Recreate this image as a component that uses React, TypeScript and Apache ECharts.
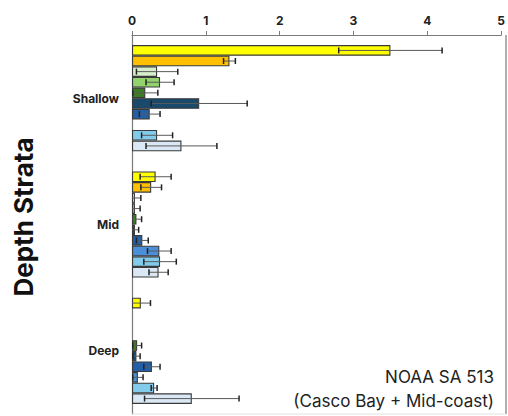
import React, { useEffect, useRef } from "react";
import * as echarts from "echarts";

const categories = ["Shallow", "Mid", "Deep"];
const xTicks = [0, 1, 2, 3, 4, 5];

const seriesNames = [
  "S1", "S2", "S3", "S4", "S5", "S6", "S7", "S8", "S9", "S10",
];
const seriesColors = [
  "#ffff00", "#ffc000", "#d6efcb", "#92d36e", "#3b7d23",
  "#1a4a6b", "#235fa6", "#4a8fd8", "#83cbeb", "#dae8f6",
];
const values: (number | null)[][] = [
  [3.5, 0.32, 0.12],
  [1.32, 0.26, null],
  [0.34, 0.04, null],
  [0.38, 0.04, null],
  [0.18, 0.06, 0.07],
  [0.91, 0.04, 0.06],
  [0.24, 0.14, 0.27],
  [null, 0.37, 0.08],
  [0.34, 0.38, 0.3],
  [0.67, 0.36, 0.81],
];
const errors: (number | null)[][] = [
  [0.7, 0.21, 0.13],
  [0.08, 0.14, null],
  [0.28, 0.08, null],
  [0.19, 0.07, null],
  [0.17, 0.07, 0.06],
  [0.65, 0.05, 0.05],
  [0.14, 0.08, 0.11],
  [null, 0.16, 0.07],
  [0.21, 0.22, 0.04],
  [0.48, 0.13, 0.64],
];

const noteLines = ["NOAA SA 513", "(Casco Bay + Mid-coast)"];
const yAxisTitle = "Depth Strata";

const CAT_GAP = 0.16;
const FONT = "Inter, 'Noto Sans', sans-serif";

export default function App() {
  const ref = useRef<HTMLDivElement>(null);
  useEffect(() => {
    if (!ref.current) return;
    const chart = echarts.init(ref.current, null, { renderer: "svg" });
    const n = seriesNames.length;
    const gridLeft = 132;
    const gridTop = 35;
    const gridRight = 2;
    const gridBottom = 2;

    const barSeries = seriesNames.map((name, i) => ({
      name,
      type: "bar",
      data: values[i].map((v) => (v === null ? "-" : v)),
      barCategoryGap: CAT_GAP * 100 + "%",
      barGap: "0%",
      itemStyle: {
        color: seriesColors[i],
        borderColor: "#3a3a3a",
        borderWidth: 1.1,
      },
      z: 2,
    }));

    const errSeries = seriesNames.map((name, i) => ({
      name: name + "_err",
      type: "custom",
      z: 5,
      data: values[i]
        .map((v, c) =>
          v === null || errors[i][c] === null
            ? null
            : [c, v - (errors[i][c] as number), v + (errors[i][c] as number)]
        )
        .filter((d) => d !== null),
      renderItem: (params: any, api: any) => {
        const c = api.value(0);
        const lo = Math.max(0, api.value(1));
        const hi = api.value(2);
        const band = api.size([0, 1])[1];
        const groupW = band * (1 - CAT_GAP);
        const barW = groupW / n;
        const yc = api.coord([0, c])[1] - groupW / 2 + (i + 0.5) * barW;
        const p1 = api.coord([lo, c]);
        const p2 = api.coord([hi, c]);
        const cap = 3;
        const children: any[] = [
          {
            type: "line",
            shape: { x1: p1[0], y1: yc, x2: p2[0], y2: yc },
            style: { stroke: "#5a5a5a", lineWidth: 1 },
          },
          {
            type: "line",
            shape: { x1: p2[0], y1: yc - cap, x2: p2[0], y2: yc + cap },
            style: { stroke: "#222", lineWidth: 1.5 },
          },
        ];
        if (api.value(1) > 0) {
          children.push({
            type: "line",
            shape: { x1: p1[0], y1: yc - cap, x2: p1[0], y2: yc + cap },
            style: { stroke: "#222", lineWidth: 1.5 },
          });
        }
        return { type: "group", children };
      },
      encode: { y: 0, x: [1, 2] },
    }));

    chart.setOption({
      animation: false,
      grid: {
        left: gridLeft,
        right: gridRight,
        top: gridTop,
        bottom: gridBottom,
        containLabel: false,
      },
      xAxis: {
        type: "value",
        position: "top",
        min: xTicks[0],
        max: xTicks[xTicks.length - 1],
        interval: 1,
        axisLine: { show: true, lineStyle: { color: "#7a7a7a", width: 1.2 } },
        axisTick: { show: true, length: 4, lineStyle: { color: "#7a7a7a" } },
        splitLine: { show: false },
        axisLabel: {
          margin: 9,
          color: "#222",
          fontWeight: "bold",
          fontSize: 12,
          fontFamily: FONT,
        },
      },
      yAxis: {
        type: "category",
        data: categories,
        inverse: true,
        axisLine: { show: true, lineStyle: { color: "#7a7a7a", width: 1.2 } },
        axisTick: { show: false },
        axisLabel: {
          margin: 13,
          color: "#222",
          fontWeight: "bold",
          fontSize: 12,
          fontFamily: FONT,
        },
      },
      graphic: [
        {
          type: "line",
          shape: { x1: 506, y1: gridTop, x2: 506, y2: 414 },
          style: { stroke: "#7a7a7a", lineWidth: 1.2 },
          z: 10,
        },
        {
          type: "line",
          shape: { x1: gridLeft, y1: 414, x2: 506, y2: 414 },
          style: { stroke: "#e0e0e0", lineWidth: 1 },
          z: 10,
        },
        {
          type: "text",
          x: 23,
          y: 217,
          rotation: Math.PI / 2,
          style: {
            text: yAxisTitle,
            fill: "#111",
            font: "bold 26px " + FONT,
            align: "center",
            verticalAlign: "middle",
          },
        },
        {
          type: "text",
          x: 494,
          y: 377,
          style: {
            text: noteLines[0],
            fill: "#222",
            font: "17px " + FONT,
            align: "right",
            verticalAlign: "middle",
          },
          z: 10,
        },
        {
          type: "text",
          x: 494,
          y: 401,
          style: {
            text: noteLines[1],
            fill: "#222",
            font: "17px " + FONT,
            align: "right",
            verticalAlign: "middle",
          },
          z: 10,
        },
      ],
      series: [...barSeries, ...errSeries],
    });
    return () => chart.dispose();
  }, []);
  return (
    <div
      ref={ref}
      style={{ position: "fixed", left: 0, top: 0, width: 508, height: 416, background: "#fff" }}
    />
  );
}
